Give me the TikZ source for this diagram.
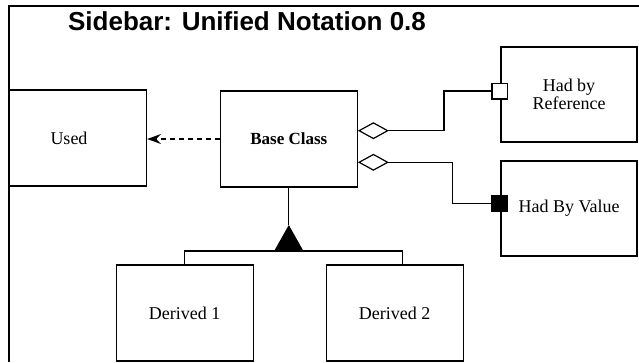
\documentclass[tikz,border=0pt]{standalone}
\usepackage{fontspec}
\setmainfont{Liberation Serif}
\newfontfamily\headfont{Liberation Sans}
\usetikzlibrary{arrows.meta}

\begin{document}
\begin{tikzpicture}[x=1pt, y=-1pt, line width=1.2pt,
        cls/.style={draw, minimum width=137pt, minimum height=96pt, inner sep=0pt,
            align=center, font=\fontsize{18}{18.5}\selectfont},
        byref/.style={arrows={Diamond[fill=white,length=31pt,width=17pt]-Square[fill=white,length=17pt,width=17pt]}},
        byval/.style={arrows={Diamond[fill=white,length=31pt,width=17pt]-Square[length=17pt,width=17pt]}},
        uses/.style={dash pattern=on 5pt off 4pt, -{Stealth[length=14pt,width=10pt,inset=5pt]}},
        isa/.style={-{Triangle[length=26pt,width=29pt]}}]
            \useasboundingbox (0,0) rectangle (639,362);
            \draw (9,362) |- (639,6);
            \node[anchor=base, font=\headfont\bfseries\fontsize{26}{28}\selectfont] (title) at (247,30.7) {Sidebar: Unified Notation 0.8};

            \draw (78,138) node[cls, label={[xshift=-9pt, font=\fontsize{18}{18.5}\selectfont]center:Used}] (used) {};
            \draw (288.8,139) node[cls, font=\bfseries\fontsize{17}{18}\selectfont] (base) {Base Class};
            \draw (569,94.5) node[cls, minimum width=136pt, minimum height=95pt] (ref) {Had by\\Reference};
            \draw (569,208.5) node[cls, minimum width=136pt, minimum height=95pt] (val) {Had By Value};
            \draw (184.7,313) node[cls] (der1) {Derived 1};
            \draw (394.7,313) node[cls] (der2) {Derived 2};

            \coordinate (gen) at (288.8,251);
            \coordinate (tip) at (288.8,225);

            \draw[uses] (base.west) -- (used.east |- base.west);
            \draw[byref] ([yshift=8.3pt]base.east) -- (444,130.7) |- ([xshift=8pt,yshift=3.5pt]ref.west);
            \draw[byval] ([yshift=-23.3pt]base.east) -- (452.3,162.3) |- ([xshift=8pt,yshift=5pt]val.west);
            \draw (base.south) -- (tip);
            \draw[isa] (gen) -- (tip);
            \draw (der1.north) |- (gen) -| ([xshift=7.6pt]der2.north);
        \end{tikzpicture}
\end{document}
